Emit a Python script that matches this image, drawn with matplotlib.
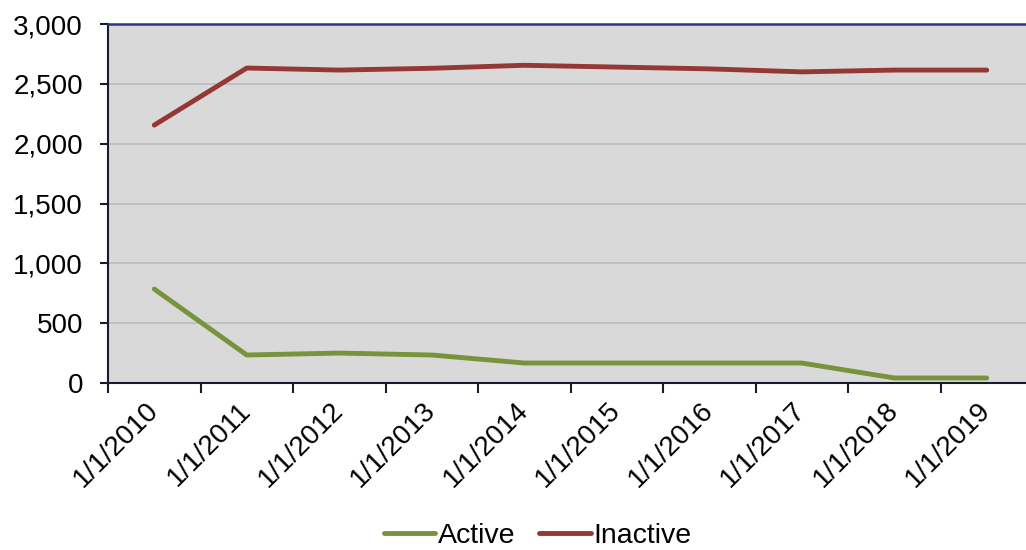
import matplotlib.pyplot as plt
import numpy as np

years = ["1/1/2010", "1/1/2011", "1/1/2012", "1/1/2013", "1/1/2014",
         "1/1/2015", "1/1/2016", "1/1/2017", "1/1/2018", "1/1/2019"]
active = [785, 234, 250, 234, 167, 167, 167, 167, 42, 42]
inactive = [2155, 2632, 2615, 2630, 2655, 2640, 2625, 2600, 2615, 2615]

plt.rcParams['font.family'] = ['Liberation Sans', 'DejaVu Sans']

fig = plt.figure(figsize=(10.26, 5.5), dpi=100)
ax = fig.add_axes([108/1026, 167/550, 925/1026, 359/550])
ax.set_facecolor("#D9D9D9")

x = np.arange(len(years))
ax.plot(x, active, color="#77933C", lw=3.5, label="Active", solid_capstyle="round")
ax.plot(x, inactive, color="#953735", lw=3.5, label="Inactive", solid_capstyle="round")

ax.set_xlim(-0.5, len(years) - 0.5)
ax.set_ylim(0, 3000)
ax.set_yticks(np.arange(0, 3001, 500))
ax.set_yticklabels(["{:,}".format(v) for v in range(0, 3001, 500)], fontsize=20)
ax.yaxis.grid(True, color="#BDBDBD", lw=1.2)
ax.set_axisbelow(True)

ax.set_xticks(np.arange(-0.5, len(years), 1.0))
ax.set_xticklabels([])
ax.set_xticks(x, minor=True)
ax.set_xticklabels(years, minor=True, fontsize=20, rotation=45, ha="right",
                   va="center", rotation_mode="anchor")
ax.tick_params(axis="x", which="minor", length=0, pad=17)
ax.tick_params(axis="x", which="major", length=7, width=1.5, color="#1a1a2e")
ax.tick_params(axis="y", length=6, width=1.5, color="#1a1a2e", pad=12)

ax.spines["top"].set_color("#1F3A78")
ax.spines["top"].set_linewidth(1.8)
ax.spines["left"].set_color("#1a1a2e")
ax.spines["left"].set_linewidth(1.5)
ax.spines["bottom"].set_color("#1a1a2e")
ax.spines["bottom"].set_linewidth(1.5)
ax.spines["right"].set_visible(False)

fig.legend(loc="lower center", bbox_to_anchor=(0.524, -0.045), ncol=2, frameon=False,
           fontsize=20.5, handlelength=1.8, handletextpad=0.1, columnspacing=0.85)

fig.savefig("out.png", dpi=100)
